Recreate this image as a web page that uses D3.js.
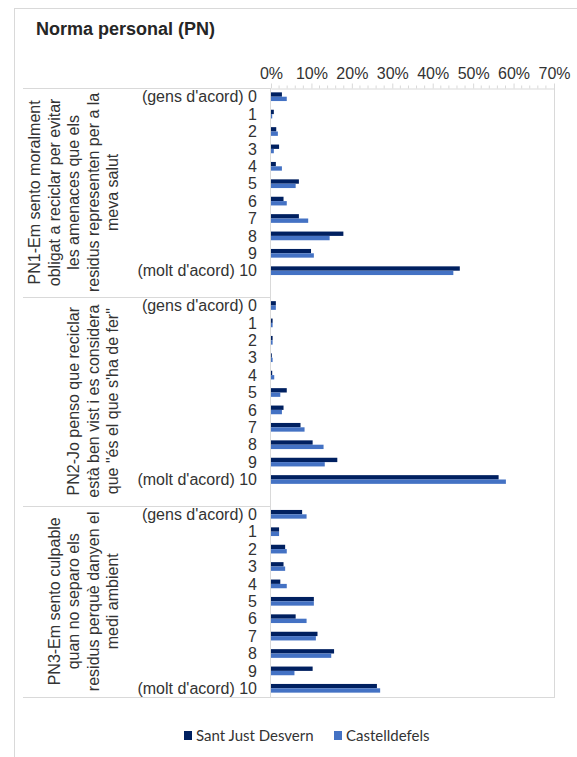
<!DOCTYPE html>
<html>
<head>
<meta charset="utf-8">
<script src="https://cdn.jsdelivr.net/npm/d3@7"></script>
<style>
  html, body { margin: 0; padding: 0; background: #fff; }
  svg { display: block; }
  text { font-family: "Liberation Sans", Arial, sans-serif; fill: #333; }
</style>
</head>
<body>
<svg id="chart" width="577" height="757"></svg>
<script>
// Percentages of answers on the 0–10 agreement scale, per statement and municipality
const seriesNames = ["Sant Just Desvern", "Castelldefels"];
const seriesColors = ["#002060", "#4472C4"];

const scaleLabels = ["(gens d'acord) 0", "1", "2", "3", "4", "5", "6", "7", "8", "9", "(molt d'acord) 10"];
const tickValues = [0, 10, 20, 30, 40, 50, 60, 70];
const tickLabels = ["0%", "10%", "20%", "30%", "40%", "50%", "60%", "70%"];

const groupKeys = ["PN1", "PN2", "PN3"];
const pn1Lines = ["PN1-Em sento moralment", "obligat a reciclar per evitar", "les amenaces que els", "residus representen per a la", "meva salut"];
const pn2Lines = ["PN2-Jo penso que reciclar", "està ben vist i es considera", "que \"és el que s'ha de fer\""];
const pn3Lines = ["PN3-Em sento culpable", "quan no separo els", "residus perquè danyen el", "medi ambient"];

const pn1SantJust      = [2.7, 0.7, 1.3, 2.0, 1.2, 6.9, 3.1, 6.9, 17.9, 9.9, 46.7];
const pn1Castelldefels = [3.9, 0.3, 1.7, 0.7, 2.7, 6.1, 3.9, 9.2, 14.5, 10.6, 45.1];
const pn2SantJust      = [1.2, 0.4, 0.4, 0.2, 0.3, 3.9, 3.1, 7.3, 10.3, 16.4, 56.3];
const pn2Castelldefels = [1.2, 0.4, 0.4, 0.4, 0.8, 2.3, 2.7, 8.3, 13.0, 13.3, 58.1];
const pn3SantJust      = [7.7, 2.0, 3.5, 3.1, 2.3, 10.6, 6.1, 11.5, 15.6, 10.3, 26.2];
const pn3Castelldefels = [8.8, 2.0, 3.9, 3.5, 3.9, 10.6, 8.8, 11.1, 14.9, 5.8, 27.0];

// Assemble groups from the arrays above
const groupLines = [pn1Lines, pn2Lines, pn3Lines];
const groupValues = [
  [pn1SantJust, pn1Castelldefels],
  [pn2SantJust, pn2Castelldefels],
  [pn3SantJust, pn3Castelldefels]
];
const groups = groupKeys.map((k, i) => ({ key: k, lines: groupLines[i], values: groupValues[i] }));

// Category slots: 11 per group, plus one empty slot closing each group except the last
const slots = [];
groups.forEach((g, gi) => {
  scaleLabels.forEach((lab, ci) => slots.push({ id: g.key + "-" + ci, group: gi, cat: ci, label: lab }));
  if (gi < groups.length - 1) slots.push({ id: g.key + "-gap", group: gi, cat: -1, label: "" });
});

const svg = d3.select("#chart");
const gridColor = "#d9d9d9";

const plot = { left: 271, right: 554, top: 88, bottom: 697 };
const labelLeft = 23;

const x = d3.scaleLinear().domain([0, 70]).range([plot.left, plot.right]);
const y = d3.scaleBand().domain(slots.map(s => s.id)).range([plot.top, plot.bottom]).padding(0);
const ySeries = d3.scaleBand().domain(seriesNames)
  .range([y.bandwidth() * 0.25, y.bandwidth() * 0.75]).padding(0);

// Outer chart frame
svg.append("line").attr("x1", 14.5).attr("x2", 14.5).attr("y1", 8).attr("y2", 757)
  .attr("stroke", gridColor);
svg.append("line").attr("x1", 14).attr("x2", 577).attr("y1", 8.5).attr("y2", 8.5)
  .attr("stroke", gridColor);

// Title
svg.append("text").attr("x", 36).attr("y", 35)
  .style("font-size", "18px").style("font-weight", "bold").style("fill", "#262626")
  .text("Norma personal (PN)");

// Plot frame: right edge and left axis line
svg.append("line").attr("x1", plot.right + 0.5).attr("x2", plot.right + 0.5)
  .attr("y1", plot.top).attr("y2", plot.bottom).attr("stroke", gridColor);
svg.append("line").attr("x1", plot.left - 0.5).attr("x2", plot.left - 0.5)
  .attr("y1", plot.top).attr("y2", plot.bottom).attr("stroke", gridColor);

// Group separators across the label area
const groupBounds = [plot.top];
groups.forEach((g, gi) => {
  const lastId = gi < groups.length - 1 ? g.key + "-gap" : g.key + "-10";
  groupBounds.push(y(lastId) + y.bandwidth());
});
groupBounds.forEach((b, i) => {
  svg.append("line")
    .attr("x1", labelLeft).attr("x2", i === groupBounds.length - 1 ? plot.right + 1 : plot.left)
    .attr("y1", Math.round(b) + 0.5).attr("y2", Math.round(b) + 0.5)
    .attr("stroke", gridColor);
});

// Top value axis with minor ticks every 2%
const minor = d3.range(0, 70.01, 2).filter(v => v % 10 !== 0);
svg.append("g").attr("transform", `translate(0,${plot.top + 0.5})`)
  .selectAll("line").data(minor).join("line")
  .attr("x1", d => x(d)).attr("x2", d => x(d)).attr("y1", 0).attr("y2", -3)
  .attr("stroke", gridColor);

const axis = d3.axisTop(x).tickValues(tickValues)
  .tickFormat((d, i) => tickLabels[i]).tickSizeInner(5).tickSizeOuter(0).tickPadding(5);
const axG = svg.append("g").attr("transform", `translate(0,${plot.top + 0.5})`).call(axis);
axG.select(".domain").attr("stroke", gridColor);
axG.selectAll(".tick line").attr("stroke", gridColor);
axG.selectAll(".tick text").style("font-size", "16px").style("fill", "#333")
  .style("font-family", "'Liberation Sans', Arial, sans-serif");

// Category labels
svg.append("g").selectAll("text").data(slots.filter(s => s.cat >= 0)).join("text")
  .attr("x", 257).attr("y", d => y(d.id) + y.bandwidth() / 2).attr("dy", "0.35em")
  .attr("text-anchor", "end").style("font-size", "16px")
  .text(d => d.label);

// Rotated group labels
groups.forEach((g, gi) => {
  const cy = (groupBounds[gi] + groupBounds[gi + 1]) / 2;
  const n = g.lines.length;
  g.lines.forEach((line, li) => {
    const bx = 118 - 19.5 * (n - 1 - li);
    svg.append("text")
      .attr("transform", `translate(${bx},${cy}) rotate(-90)`)
      .attr("text-anchor", "middle").style("font-size", "16px")
      .text(line);
  });
});

// Bars
const barData = [];
groups.forEach((g, gi) => {
  scaleLabels.forEach((lab, ci) => {
    seriesNames.forEach((s, si) => {
      barData.push({ id: g.key + "-" + ci, series: s, si: si, value: g.values[si][ci] });
    });
  });
});
svg.append("g").selectAll("rect").data(barData).join("rect")
  .attr("x", x(0))
  .attr("y", d => y(d.id) + ySeries(d.series))
  .attr("width", d => x(d.value) - x(0))
  .attr("height", ySeries.bandwidth())
  .attr("fill", d => seriesColors[d.si]);

// Legend
const legend = svg.append("g");
const legendX = [184, 334];
seriesNames.forEach((s, i) => {
  legend.append("rect").attr("x", legendX[i]).attr("y", 731).attr("width", 8).attr("height", 9)
    .attr("fill", seriesColors[i]);
  legend.append("text").attr("x", legendX[i] + 12).attr("y", 736).attr("dy", "0.35em")
    .style("font-family", "Lato, 'Open Sans', sans-serif").style("font-size", "15px")
    .style("fill", "#333").text(s);
});
</script>
</body>
</html>
